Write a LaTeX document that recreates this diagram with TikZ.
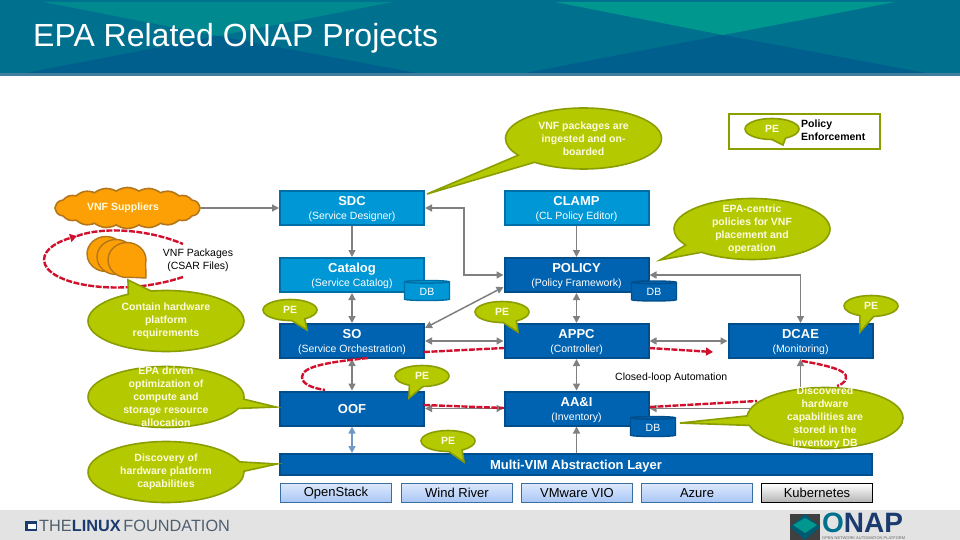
\documentclass[tikz,border=0pt]{standalone}
\usepackage{fontspec}
\setmainfont{Liberation Sans}
\usetikzlibrary{positioning, arrows.meta, shapes.geometric, shapes.callouts, shapes.symbols}
\definecolor{lightblue}{HTML}{0097D6}
\definecolor{lightedge}{HTML}{006FA8}
\definecolor{darkblue}{HTML}{0063B1}
\definecolor{darkedge}{HTML}{004F8C}
\definecolor{leaf}{HTML}{B5C900}
\definecolor{leafedge}{HTML}{8A9E00}
\definecolor{paletext}{HTML}{FCFCE0}
\definecolor{amber}{HTML}{FCA005}
\definecolor{amberedge}{HTML}{B4761A}
\definecolor{loopred}{HTML}{D0102C}
\definecolor{bandbase}{HTML}{00708F}
\definecolor{bandteal}{HTML}{00978F}
\definecolor{bandmid}{HTML}{008A90}
\definecolor{banddark}{HTML}{005F8C}
\definecolor{bandedge}{HTML}{3F7F9C}
\definecolor{vendortop}{HTML}{DCE8FC}
\definecolor{vendorlow}{HTML}{A8C6F6}
\definecolor{vendoredge}{HTML}{3A6E9E}
\definecolor{steel}{HTML}{6F9AC6}
\definecolor{navy}{HTML}{1B3B6F}
\definecolor{slate}{HTML}{4F5F6E}
\newcommand{\subline}[1]{{\fontsize{10.5}{13}\mdseries\selectfont #1}}
\tikzset{
  box/.style={rectangle, draw, line width=2pt, minimum width=144pt, minimum height=34pt,
    inner sep=0pt, align=center, text=white, text depth=-2pt, font=\fontsize{13}{14}\selectfont\bfseries},
  lightbox/.style={box, fill=lightblue, draw=lightedge},
  darkbox/.style={box, fill=darkblue, draw=darkedge},
  vendor/.style={rectangle, draw=vendoredge, line width=1pt, minimum width=111pt, minimum height=19pt,
    inner sep=0pt, top color=vendortop, bottom color=vendorlow, font=\fontsize{13}{14}\selectfont},
  bubble/.style={ellipse callout, draw=leafedge, fill=leaf, line width=1.6pt, inner sep=0pt, callout pointer arc=18},
  bubbletext/.style={align=center, text=paletext, inner sep=0pt,
    font=\fontsize{10.5}{13}\selectfont\bfseries},
  pe/.style={bubble, minimum width=54pt, minimum height=21pt, callout pointer arc=30,
    label={[bubbletext]center:PE}},
  big/.style={bubble, minimum width=156pt, minimum height=61pt},
  package/.style={ellipse callout, draw=amberedge, fill=amber, line width=1.4pt, inner sep=0pt,
    minimum width=38pt, minimum height=35pt, callout pointer arc=70},
  store/.style={cylinder, shape border rotate=90, aspect=0.18, draw, line width=1.4pt, inner sep=0pt,
    minimum width=45pt, minimum height=20pt, text=white, font=\fontsize{10.5}{13}\selectfont},
  link/.style={draw=gray, line width=1.5pt, {Triangle[length=7pt,width=7pt]}-{Triangle[length=7pt,width=7pt]}},
  oneway/.style={draw=gray, line width=1.5pt, -{Triangle[length=7pt,width=7pt]}},
  loop/.style={draw=loopred, line width=2.4pt, dash pattern=on 6pt off 1.5pt},
  loophead/.style={loop, -{Triangle[length=7pt,width=8pt]}},
  plain/.style={inner sep=0pt, align=center, font=\fontsize{10.5}{13}\selectfont}
}
\begin{document}
\begin{tikzpicture}[x=1pt, y=-1pt]
  \useasboundingbox (0,0) rectangle (960,540);
  % header band
  \fill[fill=white] (0,0) rectangle (960,540);
  \fill[fill=bandbase] (0,0) rectangle (960,75);
  \fill[fill=bandmid] (43,2) -- (393,2) -- (218,36) -- cycle;
  \fill[fill=bandteal] (555,2) -- (895,2) -- (723,35) -- cycle;
  \fill[fill=banddark] (25,73) -- (218,36) -- (417,73) -- cycle;
  \fill[fill=banddark] (525,73) -- (723,35) -- (926,73) -- cycle;
  \fill[fill=bandedge] (0,73) rectangle (960,76);
  \node[inner sep=0pt, anchor=west, text=white, font=\fontsize{32}{36}\selectfont] (title) at (33,38) {EPA Related ONAP Projects};
  % footer band
  \fill[fill=black!11] (0,510) rectangle (960,540);
  \fill[fill=navy] (25,521) rectangle (37,531);
  \fill[fill=white] (28,523.5) rectangle (36,528.5);
  \node[inner sep=0pt, anchor=west, text=slate, font=\fontsize{16.3}{18}\selectfont] (linux) at (39,526)
    {THE{\color{navy}\bfseries LINUX}\,FOUNDATION};
  \fill[fill=black!75] (790,514) rectangle (820,540);
  \fill[fill=bandbase!80!black] (805,514) -- (820,527) -- (805,540) -- (790,527) -- cycle;
  \fill[fill=bandteal] (805,518) -- (817,525) -- (805,533) -- (793,525) -- cycle;
  \node[inner sep=0pt, anchor=west, font=\fontsize{28}{30}\selectfont\bfseries, text=navy] (onap) at (822,523) {{\color{bandbase}O}NAP};
  \node[inner sep=0pt, anchor=west, font=\fontsize{4}{4}\selectfont, text=black!60] (onapsub) at (822,538) {OPEN NETWORK AUTOMATION PLATFORM};

  % project boxes
  \node[lightbox] (sdc) at (352,208) {SDC\\\subline{(Service Designer)}};
  \node[lightbox] (catalog) at (352,275) {Catalog\\\subline{(Service Catalog)}};
  \node[darkbox] (so) at (352,341) {SO\\\subline{(Service Orchestration)}};
  \node[darkbox] (oof) at (352,408.5) {OOF};
  \node[lightbox] (clamp) at (576.5,208) {CLAMP\\\subline{(CL Policy Editor)}};
  \node[darkbox] (policy) at (576.5,275) {POLICY\\\subline{(Policy Framework)}};
  \node[darkbox] (appc) at (576.5,341) {APPC\\\subline{(Controller)}};
  \node[darkbox] (aai) at (576.5,408.5) {AA\&I\\\subline{(Inventory)}};
  \node[darkbox] (dcae) at (800.5,341) {DCAE\\\subline{(Monitoring)}};
  \node[darkbox, minimum width=592pt, minimum height=21pt] (vim) at (576,464.5) {Multi-VIM Abstraction Layer};

  \node[vendor] (openstack) at (336,493) {OpenStack};
  \node[vendor] (windriver) at (457,493) {Wind River};
  \node[vendor] (vmware) at (577,493) {VMware VIO};
  \node[vendor] (azure) at (697,493) {Azure};
  \node[vendor, draw=black, top color=white, bottom color=black!30] (kubernetes) at (817,493) {Kubernetes};

  \node[store, fill=lightblue, draw=lightedge] (catalogdb) at (427,291.5) {DB};
  \node[store, fill=darkblue, draw=darkedge] (policydb) at (654,292) {DB};
  \node[store, fill=darkblue, draw=darkedge] (aaidb) at (653,427.5) {DB};

  % VNF side
  \node[cloud, cloud puffs=20, cloud puff arc=70, cloud ignores aspect, draw=amberedge, fill=amber, line width=1.6pt, inner sep=0pt,
    minimum width=145pt, minimum height=41pt, text=paletext, font=\fontsize{10.5}{13}\selectfont\bfseries] (suppliers) at (127.5,208) {VNF Suppliers\hspace*{9pt}};
  \node[package, callout absolute pointer={(126,272)}] (packa) at (106,254) {};
  \node[package, callout absolute pointer={(136,275)}] (packb) at (116,257) {};
  \node[package, callout absolute pointer={(146,278)}] (packc) at (127,260) {};
  \node[plain] (packtext) at (198,260) {VNF Packages\\(CSAR Files)};

  % connectors
  \path[oneway] (suppliers.east) -- (sdc.west);
  \path[oneway] (sdc) -- (catalog);
  \path[link] (catalog) -- (so);
  \path[link] (so) -- (oof);
  \path[link, draw=steel] (oof) -- (oof |- vim.north);
  \path[oneway] (aai |- vim.north) -- (aai);
  \path[oneway] (clamp) -- (policy);
  \path[link] (policy) -- (appc);
  \path[link] (appc) -- (aai);
  \path[link] (sdc.east) -| (464,274) |- (policy.west);
  \path[link] ([yshift=-5pt]so.north east) -- ([yshift=-30pt]policy.north west);
  \path[link] (so.east) -- (appc.west);
  \path[link] (appc.east) -- (dcae.west);
  \path[link] (oof.east) -- (aai.west);
  \path[link] (policy.east) -| (dcae.north);
  \path[link] (aai.east) -| (dcae.south);

  % closed loop
  \coordinate (p1) at (183,277);
  \coordinate (p2) at (77,236);
  \coordinate (p3) at (183,244);
  \coordinate (q1) at (424,352);
  \coordinate (q2) at (504,348);
  \coordinate (q3) at (649,348);
  \coordinate (q4) at (713,352);
  \coordinate (r1) at (368,358);
  \coordinate (r2) at (325,390);
  \coordinate (s1) at (424,405);
  \coordinate (s2) at (504,408);
  \coordinate (t1) at (650,407);
  \coordinate (t2) at (757,401);
  \coordinate (u1) at (802,361);
  \coordinate (u2) at (837,386);
  \path[loophead] (p1) .. controls (120,298) and (45,285) .. (44,260) .. controls (44,248) and (60,241) .. (p2);
  \path[loop] (p2) .. controls (105,226) and (150,230) .. (p3);
  \path[loop] (q1) -- (q2);
  \path[loophead] (q3) -- (q4);
  \path[loop] (r1) .. controls (330,362) and (302,366) .. (302,377) .. controls (302,384) and (312,388) .. (r2);
  \path[loop] (s1) -- (s2);
  \path[loop] (t1) -- (t2);
  \path[loop] (u1) .. controls (825,365) and (848,370) .. (846,378) .. controls (845,383) and (840,385) .. (u2);

  % callouts
  \node[big, callout absolute pointer={(427,194)}, label={[bubbletext]center:VNF packages are\\ingested and on-\\boarded}] (ingest) at (583.5,138.5) {};
  \node[big, callout absolute pointer={(660,260)}, label={[bubbletext]center:EPA-centric\\policies for VNF\\placement and\\operation}] (centric) at (752,229) {};
  \node[big, callout absolute pointer={(128,280)}, label={[bubbletext]center:Contain hardware\\platform\\requirements}] (contain) at (166,321) {};
  \node[big, callout absolute pointer={(276,407)}, label={[bubbletext]center:EPA driven\\optimization of\\compute and\\storage resource\\allocation}] (driven) at (166,397) {};
  \node[big, callout absolute pointer={(277,464)}, label={[bubbletext]center:Discovery of\\hardware platform\\capabilities}] (discovery) at (166,472) {};
  \node[big, callout absolute pointer={(680,423)}, label={[bubbletext]center:Discovered\\hardware\\capabilities are\\stored in the\\inventory DB}] (discovered) at (825,418) {};

  \node[pe, callout absolute pointer={(307,330)}] (peso) at (290,310) {};
  \node[pe, callout absolute pointer={(518,332)}] (peappc) at (502,312) {};
  \node[pe, callout absolute pointer={(409,398)}] (peoof) at (422,376) {};
  \node[pe, callout absolute pointer={(464,462)}] (pevim) at (448,441) {};
  \node[pe, callout absolute pointer={(860,332)}] (pedcae) at (871,306) {};

  % legend
  \node[draw=leafedge, line width=2.2pt, minimum width=151pt, minimum height=35pt, inner sep=0pt] (legend) at (804.5,131.5) {};
  \node[pe, callout absolute pointer={(783,145)}] (pelegend) at (772,129) {};
  \node[inner sep=0pt, anchor=west, align=left, font=\fontsize{10.5}{13}\selectfont\bfseries] (legendtext) at (801,130) {Policy\\Enforcement};

  \node[plain, anchor=west] (closed) at (615,378) {Closed-loop Automation};
\end{tikzpicture}
\end{document}
